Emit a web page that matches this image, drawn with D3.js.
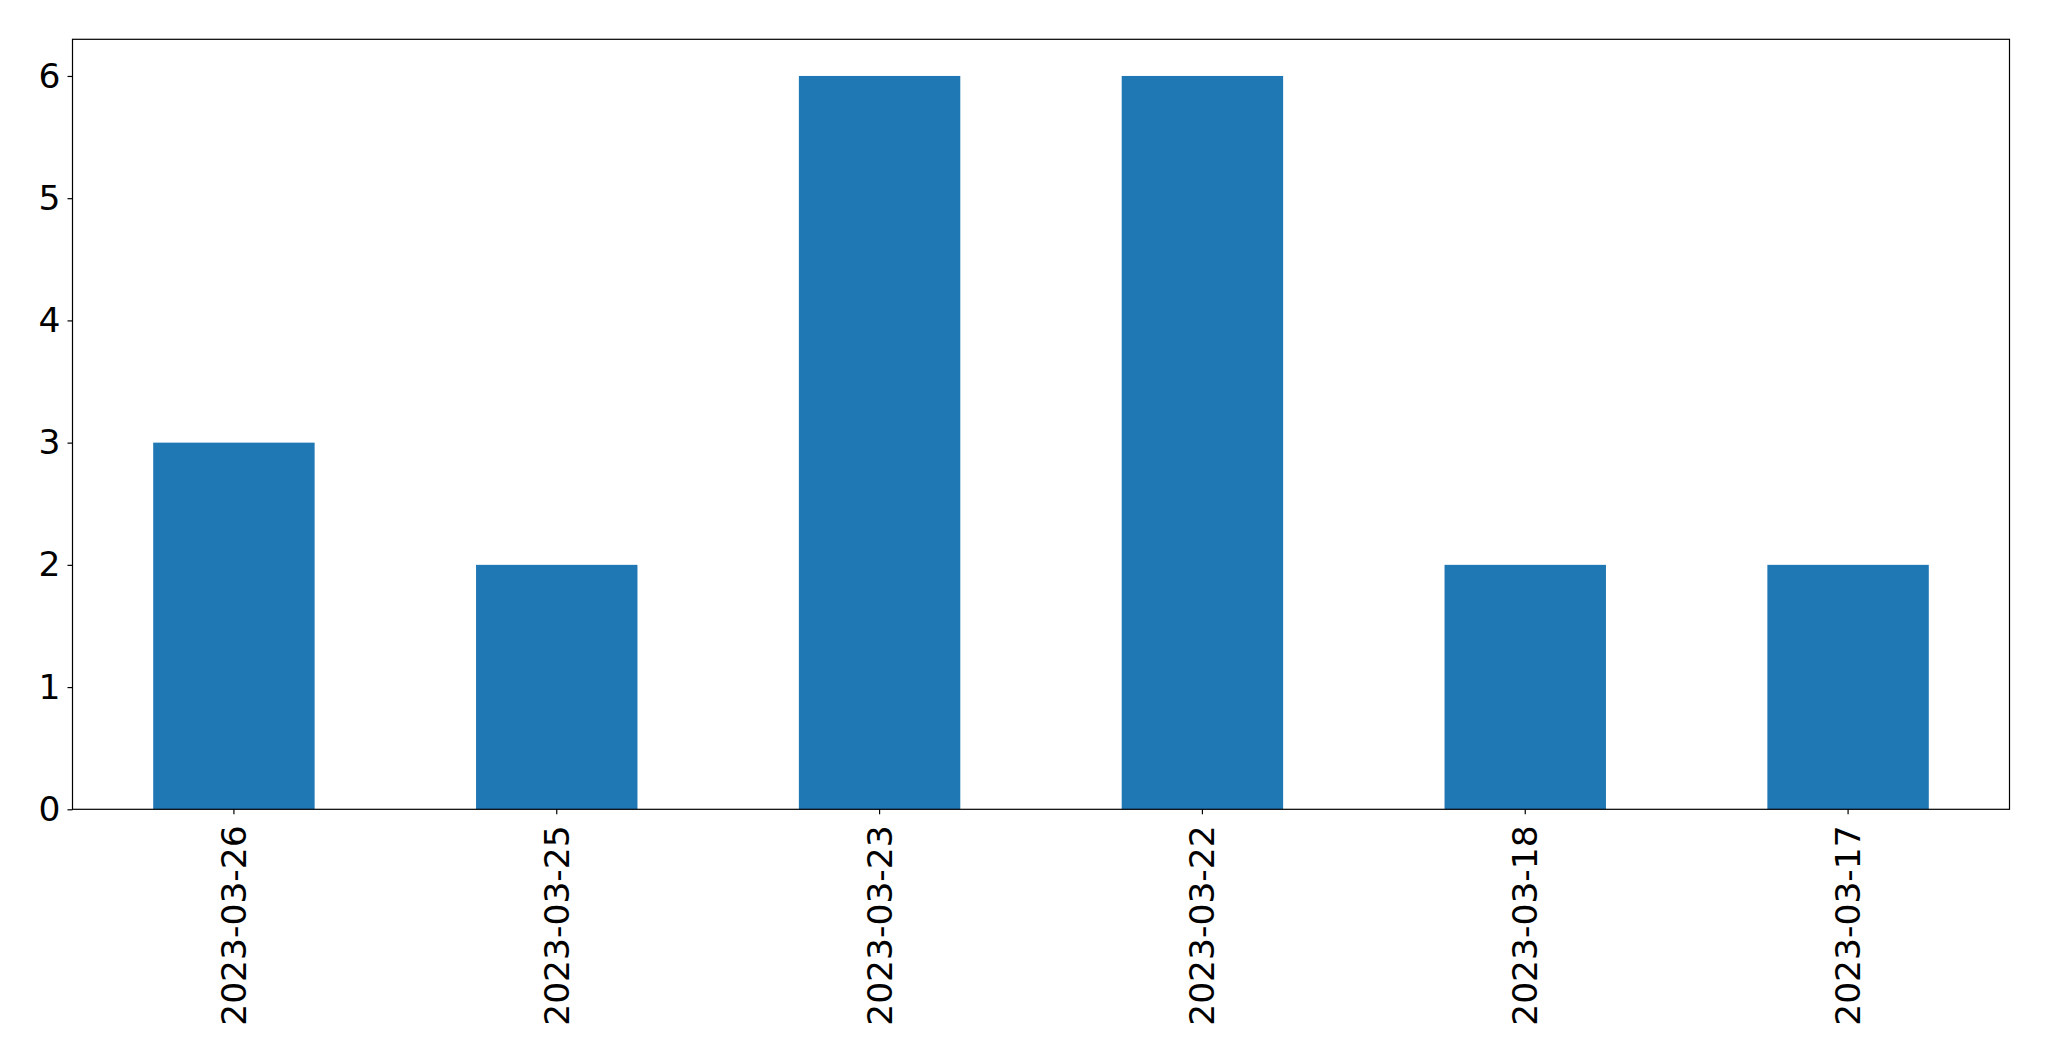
<!DOCTYPE html>
<html><head><meta charset="utf-8">
<script src="https://cdn.jsdelivr.net/npm/d3@7"></script>
<style>body{margin:0;background:#fff;} svg{display:block;} text{font-family:"DejaVu Sans",sans-serif;}</style>
</head><body>
<script>
const categories = ["2023-03-26","2023-03-25","2023-03-23","2023-03-22","2023-03-18","2023-03-17"];
const values = [3,2,6,6,2,2];
const yTicks = [0,1,2,3,4,5,6];

(function(){
const W=2049,H=1061;
const mL=72.5,mR=2009.5,mT=39.3,mB=809.3;
const svg=d3.select("body").append("svg").attr("width",W).attr("height",H);
const x=d3.scaleBand().domain(categories).range([mL,mR]).paddingInner(0.5).paddingOuter(0.25);
const y=d3.scaleLinear().domain([0,6.3]).range([mB,mT]);

svg.append("g").selectAll("rect").data(values).join("rect")
  .attr("x",(d,i)=>x(categories[i])).attr("width",x.bandwidth())
  .attr("y",d=>y(d)).attr("height",d=>y(0)-y(d)).attr("fill","#1f77b4");

const yAxis=svg.append("g").attr("transform",`translate(${mL},0)`)
  .call(d3.axisLeft(y).tickValues(yTicks).tickFormat(d3.format("d")).tickSize(5).tickPadding(7));
yAxis.select(".domain").remove();
yAxis.selectAll("text").attr("font-size",34.5).attr("fill","#000").attr("font-family","DejaVu Sans");
yAxis.selectAll("line").attr("stroke","#000").attr("stroke-width",1.2);

const xAxis=svg.append("g").attr("transform",`translate(0,${mB})`)
  .call(d3.axisBottom(x).tickSize(5).tickPadding(0));
xAxis.select(".domain").remove();
xAxis.selectAll("line").attr("stroke","#000").attr("stroke-width",1.2);
xAxis.selectAll("text").attr("font-size",34.5).attr("fill","#000").attr("font-family","DejaVu Sans")
  .attr("text-anchor","end").attr("dy",null).attr("y",0)
  .attr("transform","translate(0,16) rotate(-90)").attr("dx","0").attr("dominant-baseline","central");

svg.append("rect").attr("x",mL).attr("y",mT).attr("width",mR-mL).attr("height",mB-mT)
  .attr("fill","none").attr("stroke","#000").attr("stroke-width",1.2);
})();
</script>
</body></html>
